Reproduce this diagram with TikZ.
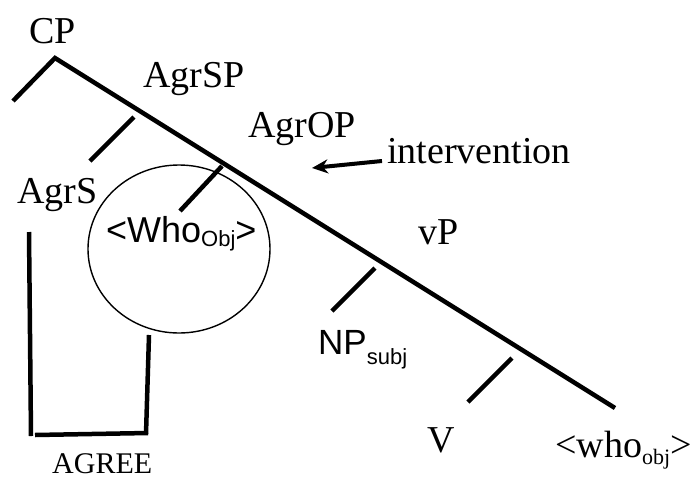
\documentclass[tikz,border=0pt]{standalone}
\usepackage{fontspec}
\setmainfont{Liberation Serif}
\newfontfamily\arial{Liberation Sans}
\usetikzlibrary{arrows.meta,shapes.geometric}
\newcommand{\sbs}[2][-7pt]{\raisebox{#1}{\fontsize{22}{24}\selectfont #2}}
\begin{document}
\begin{tikzpicture}[x=1pt,y=-1pt,
  lbl/.style={anchor=base west,inner sep=0pt,font=\fontsize{38}{42}\selectfont},
  slbl/.style={anchor=base west,inner sep=0pt,font=\arial\fontsize{36}{40}\selectfont},
  branch/.style={line width=4.5pt},
  brk/.style={line width=4.5pt},
  thin/.style={line width=1.4pt}]
\useasboundingbox (0,0) rectangle (691,480);
% coordinates
\coordinate (top) at (55,58);
\coordinate (end) at (615,408);
\coordinate (left) at (13,101);
\coordinate (s1) at (134,117); \coordinate (s2) at (90,161);
\coordinate (o1) at (222,166); \coordinate (o2) at (180,211);
\coordinate (v1) at (375,268); \coordinate (v2) at (332,311);
\coordinate (w1) at (512,358); \coordinate (w2) at (468,402);
\coordinate (b1) at (29,232); \coordinate (b2) at (31,436);
\coordinate (b3) at (35,435); \coordinate (b4) at (148,433);
\coordinate (b5) at (149,335); \coordinate (b6) at (146,434);
\coordinate (at) at (382,161); \coordinate (ah) at (312,168);
% ellipse
\node[draw,thin,ellipse,minimum width=182pt,minimum height=168pt,inner sep=0pt] (circ) at (179,249) {};
% tree lines
\draw[branch] (left) -- (top) -- (end);
\draw[branch] (s1) -- (s2);
\draw[branch] (o1) -- (o2);
\draw[branch] (v1) -- (v2);
\draw[branch] (w1) -- (w2);
% bracket
\draw[brk] (b1) -- (b2);
\draw[brk] (b3) -- (b4);
\draw[brk] (b5) -- (b6);
% arrow
\draw[line width=4pt,-{Stealth[length=16pt,width=14pt]}] (at) -- (ah);
% labels
\node[lbl] (cp) at (29,43) {CP};
\node[lbl] (agrsp) at (143,87) {AgrSP};
\node[lbl] (agrop) at (248,137) {AgrOP};
\node[lbl] (agrs) at (17,203) {AgrS};
\node[lbl] (interv) at (387,163) {intervention};
\node[lbl] (vp) at (418,244) {vP};
\node[slbl] (whoobj) at (106,242) {<Who\sbs[-4pt]{Obj}>};
\node[slbl,font=\arial\fontsize{35}{38}\selectfont] (np) at (318,354) {NP\sbs[-10pt]{subj}};
\node[lbl] (vv) at (427,452) {V};
\node[lbl] (whosm) at (555,457) {<who\sbs{obj}>};
\node[lbl,font=\fontsize{30}{34}\selectfont] (agree) at (52,473) {AGREE};
\end{tikzpicture}
\end{document}
